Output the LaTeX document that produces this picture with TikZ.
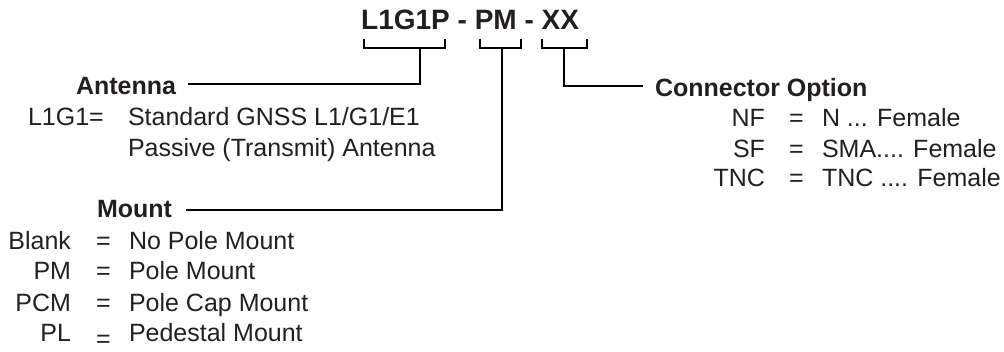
\documentclass[tikz,border=0pt]{standalone}
\usepackage{fontspec}
\setmainfont{Liberation Sans}
\definecolor{ink}{HTML}{231F20}
\begin{document}
\begin{tikzpicture}[x=1pt,y=-1pt,
  txt/.style={inner sep=0pt, outer sep=0pt, text=ink, font=\fontsize{25}{30}\selectfont},
  lbl/.style={inner sep=0pt, outer sep=0pt, text=ink, font=\fontsize{25}{30}\selectfont\bfseries},
  conn/.style={line width=2.8pt, draw=black, line join=miter, line cap=butt}]
\useasboundingbox (0,0) rectangle (1004,352);

% title
\node[inner sep=0pt, text=ink, font=\fontsize{28}{32}\selectfont\bfseries, anchor=base west] (title) at (361,30) {L1G1P - PM - XX};

% brackets
\coordinate (b1) at (420,48);
\coordinate (b2) at (502,48);
\coordinate (b3) at (564,48);
\draw[conn] (364,39) -- (364,48) -- (445,48) -- (445,39);
\draw[conn] (480,39) -- (480,48) -- (521,48) -- (521,39);
\draw[conn] (542,39) -- (542,48) -- (587,48) -- (587,39);

% labels
\node[lbl, anchor=base west] (ant) at (76,95) {Antenna};
\node[lbl, anchor=base west] (mount) at (97,218) {Mount};
\node[lbl, anchor=base west] (conopt) at (655,97) {Connector Option};

\coordinate (antEnd) at (188,84);
\coordinate (mountEnd) at (186,210);
\coordinate (conEnd) at (643,86);
\draw[conn] (b1) |- (antEnd);
\draw[conn] (b2) |- (mountEnd);
\draw[conn] (b3) |- (conEnd);

% antenna text
\node[txt, anchor=base west] (l1g1) at (28,126) {L1G1=};
\node[txt, anchor=base west] (std) at (128,126) {Standard GNSS L1/G1/E1};
\node[txt, anchor=base west] (pas) at (128,157) {Passive (Transmit) Antenna};

% mount rows
\node[txt, anchor=base east] (mk1) at (71,250) {Blank};
\node[txt, anchor=base west] (me1) at (96,250) {=};
\node[txt, anchor=base west] (mv1) at (129,250) {No Pole Mount};
\node[txt, anchor=base east] (mk2) at (71,280) {PM};
\node[txt, anchor=base west] (me2) at (96,280) {=};
\node[txt, anchor=base west] (mv2) at (129,280) {Pole Mount};
\node[txt, anchor=base east] (mk3) at (71,312) {PCM};
\node[txt, anchor=base west] (me3) at (96,312) {=};
\node[txt, anchor=base west] (mv3) at (129,312) {Pole Cap Mount};
\node[txt, anchor=base east] (mk4) at (71,342) {PL};
\node[txt, anchor=base west] (me4) at (96,348) {=};
\node[txt, anchor=base west] (mv4) at (129,342) {Pedestal Mount};

% connector rows
\node[txt, anchor=base east] (ck1) at (765,127) {NF};
\node[txt, anchor=base west] (ce1) at (789,127) {=};
\node[txt, anchor=base west] (cv1) at (822,127) {N ... Female};
\node[txt, anchor=base east] (ck2) at (765,158) {SF};
\node[txt, anchor=base west] (ce2) at (789,158) {=};
\node[txt, anchor=base west] (cv2) at (822,158) {SMA.... Female};
\node[txt, anchor=base east] (ck3) at (765,187) {TNC};
\node[txt, anchor=base west] (ce3) at (789,187) {=};
\node[txt, anchor=base west] (cv3) at (822,187) {TNC .... Female};
\end{tikzpicture}
\end{document}
